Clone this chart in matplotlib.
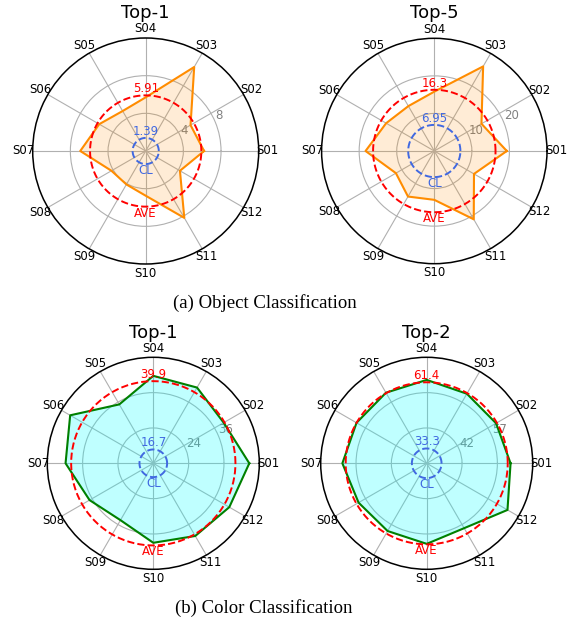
import numpy as np
import matplotlib
matplotlib.use("Agg")
import matplotlib.pyplot as plt

# spoke labels, counter-clockwise from east
subjects = ["S01", "S02", "S03", "S04", "S05", "S06",
            "S07", "S08", "S09", "S10", "S11", "S12"]

# per-subject accuracies
obj_top1 = [6.2, 5.5, 10.3, 5.7, 4.9, 5.7, 6.95, 4.2, 4.1, 4.75, 8.2, 4.2]
obj_top5 = [19.3, 14.5, 26.0, 15.8, 13.8, 14.8, 18.3, 11.8, 14.0, 13.0, 21.0, 12.2]
col_top1 = [44.6, 39.6, 41.7, 41.7, 35.1, 44.6, 41.8, 37.0, 34.3, 39.0, 40.5, 41.8]
col_top2 = [62.6, 61.0, 61.1, 62.4, 61.6, 61.4, 62.8, 60.4, 60.2, 61.2, 58.8, 66.6]

panel_titles = ["Top-1", "Top-5", "Top-1", "Top-2"]
ave_vals = [5.91, 16.3, 39.9, 61.4]
cl_vals = [1.39, 6.95, 16.7, 33.3]
r_limits = [(0, 12), (0, 30), (12, 48), (27, 72)]
r_ticks = [[4, 8], [10, 20], [24, 36], [42, 57]]

captions = ["(a) Object Classification", "(b) Color Classification"]


def radar(ax, vals, ave, cl, rlim, rticks, line_color, fill_color, fill_alpha):
    n = len(vals)
    angles = np.arange(n) * 2 * np.pi / n
    theta = np.append(angles, angles[0])
    r = np.append(vals, vals[0])

    ax.set_ylim(*rlim)
    ax.set_thetagrids(np.degrees(angles), subjects, fontsize=8.5)
    ax.tick_params(axis="x", pad=-4)
    ax.set_yticks(rticks)
    ax.set_yticklabels([str(t) for t in rticks], color="gray", fontsize=8.5)
    ax.grid(True, color="#b0b0b0", lw=0.8)

    ax.fill(theta, r, color=fill_color, alpha=fill_alpha, lw=0, zorder=2)
    ax.plot(theta, r, color=line_color, lw=1.5, zorder=3)

    circ = np.linspace(0, 2 * np.pi, 300)
    ax.plot(circ, np.full_like(circ, ave), "--", color="red", lw=1.4, zorder=4)
    ax.plot(circ, np.full_like(circ, cl), "--", color="royalblue", lw=1.4, zorder=4)

    ax.text(np.pi / 2, ave, f"{ave:.3g}", color="red", ha="center", va="bottom",
            fontsize=8.5, zorder=5)
    ax.text(3 * np.pi / 2, ave, "AVE", color="red", ha="center", va="top",
            fontsize=8.5, zorder=5)
    ax.text(np.pi / 2, cl, f"{cl:.3g}", color="royalblue", ha="center", va="bottom",
            fontsize=8.5, zorder=5)
    ax.text(3 * np.pi / 2, cl, "CL", color="royalblue", ha="center", va="top",
            fontsize=8.5, zorder=5)

    for s in ax.spines.values():
        s.set_linewidth(1.1)


fig = plt.figure(figsize=(5.72, 6.21), dpi=100)

W, H = 572.0, 621.0
# (center x, center y, radius) in pixels
boxes = [(145.7, 151, 113), (434.3, 151, 112.7), (153.3, 463.3, 106), (426.7, 463.3, 106)]
title_y = [13, 13, 333, 333]
data = [obj_top1, obj_top5, col_top1, col_top2]

for i in range(4):
    cx, cy, R = boxes[i]
    ax = fig.add_axes([(cx - R) / W, 1 - (cy + R) / H, 2 * R / W, 2 * R / H], projection="polar")
    if i < 2:
        radar(ax, data[i], ave_vals[i], cl_vals[i], r_limits[i], r_ticks[i],
              "darkorange", "darkorange", 0.16)
    else:
        radar(ax, data[i], ave_vals[i], cl_vals[i], r_limits[i], r_ticks[i],
              "green", "cyan", 0.25)
    fig.text(cx / W, 1 - title_y[i] / H, panel_titles[i], ha="center", va="center", fontsize=13)

fig.text(265 / W, 1 - 303.3 / H, captions[0], ha="center", va="center",
         fontsize=13.5, family="Liberation Serif")
fig.text(264 / W, 1 - 608.3 / H, captions[1], ha="center", va="center",
         fontsize=13.5, family="Liberation Serif")

fig.savefig("out.png", dpi=100)
